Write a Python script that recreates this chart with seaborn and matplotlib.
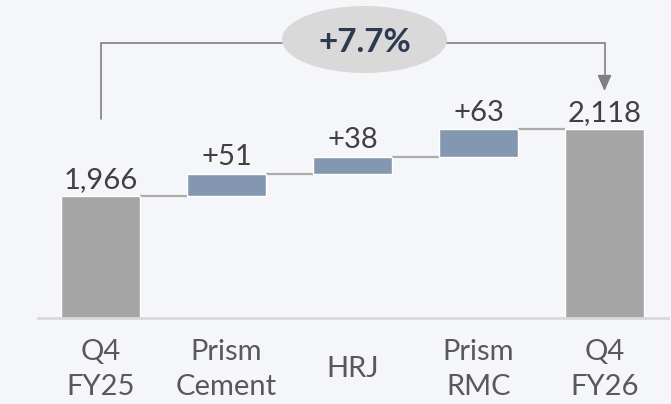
#!/usr/bin/env python3
# waterfall of Q4 FY25 -> Q4 FY26 with a growth bracket on top

import numpy as np
import pandas as pd
import matplotlib
matplotlib.use("Agg")
import matplotlib.pyplot as plt
from matplotlib.patches import Ellipse
import seaborn as sns

# -------------------------
# Data
# -------------------------
categories = ["Q4\nFY25", "Prism\nCement", "HRJ", "Prism\nRMC", "Q4\nFY26"]
values = [1966, 51, 38, 63, 2118]
kinds = ["total", "delta", "delta", "delta", "total"]

# -------------------------
# Style
# -------------------------
BG = "#F5F6FA"
GRAY = "#A5A5A5"
BLUE = "#8497B0"
AXIS = "#D9D9D9"
CONN = "#ABABAB"
BRACKET = "#808080"
LABEL = "#404040"
TICK = "#595959"
BADGE = "#D9D9D9"
BADGE_TXT = "#2E3A4F"

sns.set_theme(style="white")
plt.rcParams["font.family"] = ["Lato", "DejaVu Sans"]

df = pd.DataFrame({"category": categories, "value": values, "kind": kinds})
running = []
level = 0
for v, k in zip(values, kinds):
    if k == "total":
        running.append(0)
        level = v
    else:
        running.append(level)
        level += v
df["bottom"] = running
df["top"] = df["bottom"] + df["value"]

start, end = values[0], values[-1]
growth = (end / start - 1) * 100

# -------------------------
# Plot
# -------------------------
fig = plt.figure(figsize=(6.71, 4.04), dpi=100, facecolor=BG)
ax = fig.add_axes([37.5 / 671, (404 - 318) / 404, 630 / 671, 318 / 404])
ax.set_facecolor(BG)

ymin = 1689.2
ymax = ymin + 318 / 0.4408
BAR_W = 0.63

tot = df[df["kind"] == "total"]
dlt = df[df["kind"] == "delta"]
sns.barplot(data=tot, x="category", y="value", order=categories, color=GRAY,
            saturation=1, width=BAR_W, errorbar=None, ax=ax, zorder=2)
sns.barplot(data=dlt, x="category", y="value", order=categories, color=BLUE,
            bottom=dlt["bottom"].to_numpy(), saturation=1, width=BAR_W,
            errorbar=None, ax=ax, zorder=2)

ax.set_xlim(-0.5, 4.5)
ax.set_ylim(ymin, ymax)

# connectors between bars
for i in range(len(df) - 1):
    y = df["top"].iloc[i]
    ax.plot([i + BAR_W / 2, i + 1 - BAR_W / 2], [y, y], color=CONN, lw=1.6,
            zorder=1, solid_capstyle="butt")

# value labels
for i, row in df.iterrows():
    txt = f"{row['value']:,}" if row["kind"] == "total" else f"+{row['value']:,}"
    ax.annotate(txt, (i, row["top"]), xytext=(0, 6), textcoords="offset points",
                ha="center", va="baseline", fontsize=21, color=LABEL)

# growth bracket
bracket_y = end + 195
ax.plot([0, 0, 4, 4], [end + 23, bracket_y, bracket_y, end + 100],
        color=BRACKET, lw=1.2, zorder=3, solid_joinstyle="miter")
ax.annotate("", xy=(4, end + 86), xytext=(4, end + 104),
            arrowprops=dict(arrowstyle="-|>,head_width=0.35,head_length=0.8",
                            color=BRACKET, lw=1.2, shrinkA=0, shrinkB=0), zorder=3)
ax.add_patch(Ellipse((2.095, bracket_y + 8), 1.31, 152, facecolor=BADGE,
                     edgecolor="none", zorder=4))
ax.text(2.095, bracket_y + 8, f"+{growth:.1f}%", ha="center", va="center_baseline",
        fontsize=24, fontweight="bold", color=BADGE_TXT, zorder=5)

# axes cosmetics
for side in ["top", "right", "left"]:
    ax.spines[side].set_visible(False)
ax.spines["bottom"].set_color(AXIS)
ax.spines["bottom"].set_linewidth(2)
ax.set_yticks([])
ax.set_xlabel("")
ax.set_ylabel("")
ax.tick_params(axis="x", length=0, pad=37, labelsize=21, labelcolor=TICK)
for lab in ax.get_xticklabels():
    lab.set_verticalalignment("center")
    lab.set_linespacing(1.4)

fig.savefig("out.png", dpi=100, facecolor=BG)
plt.close(fig)
